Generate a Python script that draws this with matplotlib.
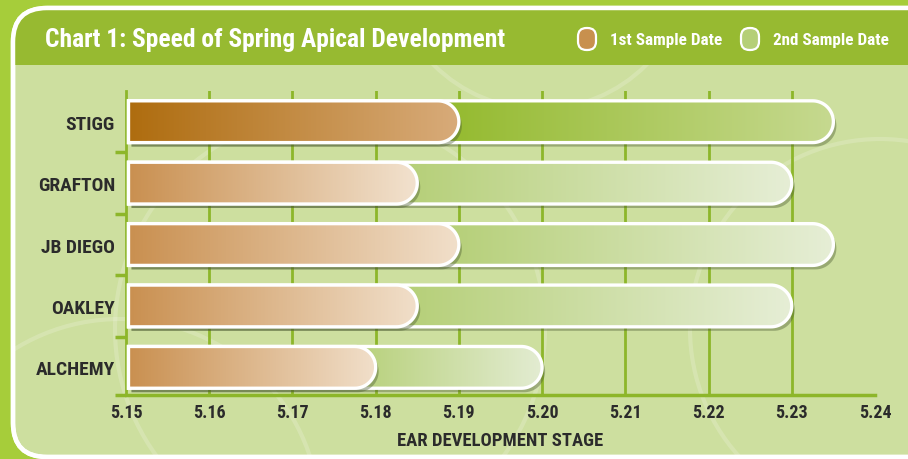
import numpy as np
import matplotlib
matplotlib.use("Agg")
import matplotlib.pyplot as plt
from matplotlib.patches import FancyBboxPatch, Rectangle, PathPatch, Circle
from matplotlib.path import Path
from matplotlib.colors import LinearSegmentedColormap
from matplotlib import font_manager
import matplotlib.transforms as mtransforms

# pick a narrow-ish font that is installed
installed = {f.name for f in font_manager.fontManager.ttflist}
narrow = None
for cand in ["Liberation Sans Narrow", "Roboto Condensed", "Open Sans Condensed",
             "DejaVu Sans Condensed", "Lato", "Roboto"]:
    if cand in installed:
        narrow = cand
        break
plt.rcParams['font.family'] = [narrow or "DejaVu Sans", "DejaVu Sans"]

# data
varieties = ["STIGG", "GRAFTON", "JB DIEGO", "OAKLEY", "ALCHEMY"]
first_sample = [5.19, 5.185, 5.19, 5.185, 5.18]
second_sample = [5.235, 5.23, 5.235, 5.23, 5.20]
x_ticks = [5.15, 5.16, 5.17, 5.18, 5.19, 5.20, 5.21, 5.22, 5.23, 5.24]
x_tick_labels = ["5.15", "5.16", "5.17", "5.18", "5.19", "5.20", "5.21", "5.22", "5.23", "5.24"]

# gradient colours (left -> right) per bar
brown_grad = [("#ae6c0e", "#d8ab7a"), ("#c98f4f", "#f2e2cf"), ("#c98f4f", "#f1dfca"),
              ("#c98f4f", "#f1dfca"), ("#c98f4f", "#f1dfca")]
green_grad = [("#94ba2e", "#c6d990"), ("#b5cf77", "#e6eed6"), ("#b5cf77", "#e6eed6"),
              ("#b5cf77", "#e6eed6"), ("#b8d17c", "#e3ecd2")]

W, H = 908, 460
fig = plt.figure(figsize=(W / 100, H / 100), dpi=100)
fig.patch.set_facecolor("#a6cd3a")

# background frame
bg = fig.add_axes([0, 0, 1, 1])
bg.set_xlim(0, W)
bg.set_ylim(H, 0)
bg.axis("off")
panel = FancyBboxPatch((13, 9), 1000, 449, boxstyle="round,pad=0,rounding_size=34",
                       fc="#cddf9f", ec="white", lw=3.2, zorder=1)
bg.add_patch(panel)
for (cx, cy, r) in [(330, 330, 215), (880, 330, 190), (540, -40, 150), (120, 520, 200)]:
    c = Circle((cx, cy), r, fill=False, ec="white", lw=3, alpha=0.18, zorder=1.5)
    bg.add_patch(c)
    c.set_clip_path(panel)
header = Rectangle((0, 0), W + 200, 66, fc="#97ba31", ec="none", zorder=2)
bg.add_patch(header)
header.set_clip_path(panel)
bg.add_patch(FancyBboxPatch((13, 9), 1000, 449, boxstyle="round,pad=0,rounding_size=34",
                            fc="none", ec="white", lw=3.2, zorder=3))
bg.text(45, 40, "Chart 1: Speed of Spring Apical Development", color="white",
        fontsize=18.4, fontweight="bold", va="center", ha="left", zorder=4)

# legend
for lx, fc, lab in [(578, "#c8904e", "1st Sample Date"), (741, "#b5cf77", "2nd Sample Date")]:
    bg.add_patch(FancyBboxPatch((lx, 29), 18, 22, boxstyle="round,pad=0,rounding_size=8.5",
                                fc=fc, ec="white", lw=1.6, zorder=4))
    bg.text(lx + 32, 40, lab, color="white", fontsize=12.3, fontweight="bold",
            va="center", ha="left", zorder=4)

# chart axes
ax = fig.add_axes([126 / W, 1 - 396 / H, 749 / W, 304 / H])
ax.patch.set_alpha(0)
xmin, xmax = 5.15, 5.24
ymin, ymax = 4.45, -0.5
ax.set_xlim(xmin, xmax)
ax.set_ylim(ymin, ymax)

green = "#8db62a"
for t in x_ticks[1:-1]:
    ax.axvline(t, color=green, lw=2, zorder=1)

ax_w = fig.get_figwidth() * 100 * 749 / W
ax_h = fig.get_figheight() * 100 * 304 / H
ppx = ax_w / (xmax - xmin)
ppy = ax_h / abs(ymax - ymin)

h = 0.68


def bar_path(y, x0, x1):
    hh = h / 2
    rx = hh * ppy / ppx
    th = np.linspace(-np.pi / 2, np.pi / 2, 40)
    xs = [x0] + list(x1 - rx + rx * np.cos(th)) + [x0]
    ys = [y - hh] + list(y + hh * np.sin(th)) + [y + hh]
    verts = list(zip(xs, ys)) + [(x0, y - hh)]
    codes = [Path.MOVETO] + [Path.LINETO] * (len(verts) - 2) + [Path.CLOSEPOLY]
    return Path(verts, codes)


grad = np.linspace(0, 1, 256).reshape(1, -1)
shadow_tr = mtransforms.offset_copy(ax.transData, fig=fig, x=3, y=-4, units="dots")


def draw_bar(y, x0, x1, gx0, cols, z):
    p = bar_path(y, x0 + 0.0003, x1)
    ax.add_patch(PathPatch(p, fc="#4a5a30", ec="none", alpha=0.4, transform=shadow_tr, zorder=z))
    patch = PathPatch(p, fc=cols[0], ec="none", zorder=z + 0.1)
    ax.add_patch(patch)
    cmap = LinearSegmentedColormap.from_list("g", list(cols))
    im = ax.imshow(grad, extent=[gx0, x1, y + h / 2, y - h / 2], aspect="auto",
                   cmap=cmap, zorder=z + 0.2, interpolation="bicubic")
    im.set_clip_path(patch)
    ax.add_patch(PathPatch(p, fc="none", ec="white", lw=2.4, zorder=z + 0.3))


for i, name in enumerate(varieties):
    draw_bar(i, xmin, second_sample[i], first_sample[i] - 0.002, green_grad[i], 3 + i)
    draw_bar(i, xmin, first_sample[i], xmin, brown_grad[i], 3.5 + i)

ax.set_xlim(xmin, xmax)
ax.set_ylim(ymin, ymax)

for s in ["top", "right"]:
    ax.spines[s].set_visible(False)
ax.spines["left"].set_color(green)
ax.spines["left"].set_linewidth(2)
ax.spines["bottom"].set_color(green)
ax.spines["bottom"].set_linewidth(2.5)

ax.set_xticks(x_ticks)
ax.set_xticklabels(x_tick_labels)
ax.set_yticks(range(len(varieties)))
ax.set_yticklabels(varieties)
ax.set_yticks([0.5, 1.5, 2.5, 3.5, ymin], minor=True)
ax.tick_params(axis="x", length=0, pad=6, labelsize=13, labelcolor="#2b2b2b")
ax.tick_params(axis="y", which="major", length=0, pad=8, labelsize=14, labelcolor="#2b2b2b")
ax.tick_params(axis="y", which="minor", length=8, width=2.5, color=green, direction="out")
for lab in ax.get_xticklabels() + ax.get_yticklabels():
    lab.set_fontweight("bold")
ax.set_xlabel("EAR DEVELOPMENT STAGE", fontsize=13.4, fontweight="bold", color="#2b2b2b", labelpad=7)

fig.savefig("out.png", dpi=100)
